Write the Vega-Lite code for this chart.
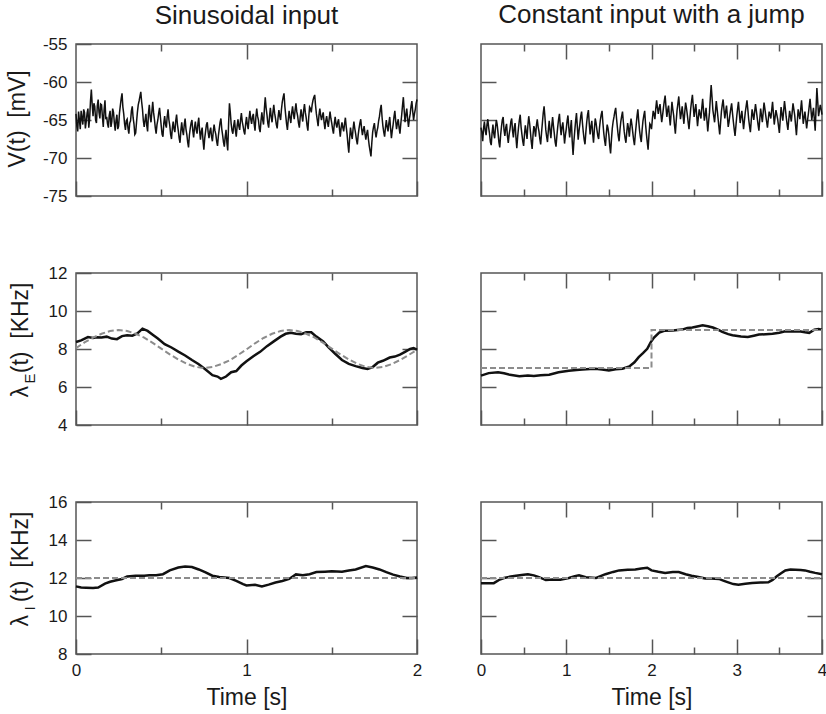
{
  "$schema": "https://vega.github.io/schema/vega-lite/v6.json",
  "padding": {"left": 5, "top": 1, "right": 0, "bottom": 0},
  "config": {
    "font": "Liberation Sans",
    "view": {"stroke": "#555555", "strokeWidth": 1.5},
    "axis": {"domain": false, "grid": false, "labelFont": "Liberation Sans", "labelFontSize": 17, "labelColor": "#1a1a1a", "tickColor": "#555555", "tickWidth": 1.5, "labelFlush": false, "labelOverlap": false, "labelBound": false, "titleFont": "Liberation Sans", "titleFontSize": 23, "titleFontWeight": "normal", "titleColor": "#1a1a1a"},
    "title": {"font": "Liberation Sans", "fontSize": 26, "fontWeight": "normal", "color": "#1a1a1a", "anchor": "middle", "baseline": "alphabetic", "frame": "group"}
  },
  "datasets": {
    "vsin": [
      {"t":0.00,"v":-64.2},{"t":0.01,"v":-66.5},{"t":0.02,"v":-65.0},{"t":0.03,"v":-63.8},{"t":0.04,"v":-65.6},{"t":0.05,"v":-64.0},{"t":0.06,"v":-65.2},{"t":0.07,"v":-63.5},{"t":0.08,"v":-64.8},{"t":0.09,"v":-61.0},
      {"t":0.10,"v":-64.5},{"t":0.11,"v":-63.2},{"t":0.12,"v":-65.4},{"t":0.13,"v":-62.3},{"t":0.14,"v":-64.8},{"t":0.15,"v":-63.0},{"t":0.16,"v":-65.9},{"t":0.17,"v":-62.4},{"t":0.18,"v":-64.6},{"t":0.19,"v":-66.0},
      {"t":0.20,"v":-63.8},{"t":0.21,"v":-65.2},{"t":0.22,"v":-64.0},{"t":0.23,"v":-66.4},{"t":0.24,"v":-64.3},{"t":0.25,"v":-65.8},{"t":0.26,"v":-63.1},{"t":0.27,"v":-61.5},{"t":0.28,"v":-64.2},{"t":0.29,"v":-66.3},
      {"t":0.30,"v":-64.9},{"t":0.31,"v":-66.8},{"t":0.32,"v":-65.1},{"t":0.33,"v":-63.2},{"t":0.34,"v":-65.5},{"t":0.35,"v":-66.7},{"t":0.36,"v":-64.0},{"t":0.37,"v":-62.5},{"t":0.38,"v":-61.3},{"t":0.39,"v":-63.6},
      {"t":0.40,"v":-65.9},{"t":0.41,"v":-64.2},{"t":0.42,"v":-66.5},{"t":0.43,"v":-63.0},{"t":0.44,"v":-65.3},{"t":0.45,"v":-62.6},{"t":0.46,"v":-64.9},{"t":0.47,"v":-66.8},{"t":0.48,"v":-65.0},{"t":0.49,"v":-63.4},
      {"t":0.50,"v":-65.8},{"t":0.51,"v":-67.2},{"t":0.52,"v":-64.5},{"t":0.53,"v":-66.0},{"t":0.54,"v":-63.6},{"t":0.55,"v":-65.7},{"t":0.56,"v":-67.5},{"t":0.57,"v":-65.2},{"t":0.58,"v":-66.6},{"t":0.59,"v":-64.3},
      {"t":0.60,"v":-66.4},{"t":0.61,"v":-68.0},{"t":0.62,"v":-65.3},{"t":0.63,"v":-67.0},{"t":0.64,"v":-64.8},{"t":0.65,"v":-66.9},{"t":0.66,"v":-68.6},{"t":0.67,"v":-66.1},{"t":0.68,"v":-65.0},{"t":0.69,"v":-67.3},
      {"t":0.70,"v":-65.2},{"t":0.71,"v":-66.8},{"t":0.72,"v":-64.7},{"t":0.73,"v":-67.6},{"t":0.74,"v":-66.0},{"t":0.75,"v":-68.9},{"t":0.76,"v":-66.5},{"t":0.77,"v":-65.3},{"t":0.78,"v":-67.4},{"t":0.79,"v":-66.0},
      {"t":0.80,"v":-67.8},{"t":0.81,"v":-65.6},{"t":0.82,"v":-66.9},{"t":0.83,"v":-68.4},{"t":0.84,"v":-66.2},{"t":0.85,"v":-64.8},{"t":0.86,"v":-67.0},{"t":0.87,"v":-68.5},{"t":0.88,"v":-66.3},{"t":0.89,"v":-69.0},
      {"t":0.90,"v":-62.8},{"t":0.91,"v":-65.5},{"t":0.92,"v":-66.8},{"t":0.93,"v":-65.0},{"t":0.94,"v":-67.2},{"t":0.95,"v":-64.9},{"t":0.96,"v":-66.3},{"t":0.97,"v":-64.1},{"t":0.98,"v":-65.8},{"t":0.99,"v":-66.9},
      {"t":1.00,"v":-64.6},{"t":1.01,"v":-66.2},{"t":1.02,"v":-63.8},{"t":1.03,"v":-65.5},{"t":1.04,"v":-64.2},{"t":1.05,"v":-66.4},{"t":1.06,"v":-63.5},{"t":1.07,"v":-65.0},{"t":1.08,"v":-66.6},{"t":1.09,"v":-64.0},
      {"t":1.10,"v":-65.6},{"t":1.11,"v":-62.0},{"t":1.12,"v":-64.3},{"t":1.13,"v":-66.0},{"t":1.14,"v":-63.4},{"t":1.15,"v":-65.3},{"t":1.16,"v":-63.0},{"t":1.17,"v":-64.8},{"t":1.18,"v":-66.1},{"t":1.19,"v":-63.7},
      {"t":1.20,"v":-65.0},{"t":1.21,"v":-62.6},{"t":1.22,"v":-61.5},{"t":1.23,"v":-64.4},{"t":1.24,"v":-66.3},{"t":1.25,"v":-63.8},{"t":1.26,"v":-65.4},{"t":1.27,"v":-63.2},{"t":1.28,"v":-64.9},{"t":1.29,"v":-62.8},
      {"t":1.30,"v":-64.5},{"t":1.31,"v":-66.0},{"t":1.32,"v":-63.6},{"t":1.33,"v":-65.2},{"t":1.34,"v":-62.9},{"t":1.35,"v":-64.7},{"t":1.36,"v":-66.4},{"t":1.37,"v":-63.3},{"t":1.38,"v":-64.0},{"t":1.39,"v":-62.4},
      {"t":1.40,"v":-61.7},{"t":1.41,"v":-64.2},{"t":1.42,"v":-65.8},{"t":1.43,"v":-63.5},{"t":1.44,"v":-65.0},{"t":1.45,"v":-64.0},{"t":1.46,"v":-66.2},{"t":1.47,"v":-64.5},{"t":1.48,"v":-65.9},{"t":1.49,"v":-63.9},
      {"t":1.50,"v":-65.4},{"t":1.51,"v":-66.8},{"t":1.52,"v":-64.6},{"t":1.53,"v":-66.0},{"t":1.54,"v":-64.9},{"t":1.55,"v":-67.2},{"t":1.56,"v":-65.3},{"t":1.57,"v":-66.5},{"t":1.58,"v":-64.7},{"t":1.59,"v":-66.9},
      {"t":1.60,"v":-69.3},{"t":1.61,"v":-66.0},{"t":1.62,"v":-67.5},{"t":1.63,"v":-65.2},{"t":1.64,"v":-66.8},{"t":1.65,"v":-68.2},{"t":1.66,"v":-66.1},{"t":1.67,"v":-64.9},{"t":1.68,"v":-67.0},{"t":1.69,"v":-65.8},
      {"t":1.70,"v":-67.6},{"t":1.71,"v":-66.3},{"t":1.72,"v":-68.4},{"t":1.73,"v":-69.8},{"t":1.74,"v":-66.6},{"t":1.75,"v":-65.4},{"t":1.76,"v":-67.3},{"t":1.77,"v":-66.0},{"t":1.78,"v":-64.5},{"t":1.79,"v":-63.0},
      {"t":1.80,"v":-65.8},{"t":1.81,"v":-67.2},{"t":1.82,"v":-65.0},{"t":1.83,"v":-66.5},{"t":1.84,"v":-64.6},{"t":1.85,"v":-67.4},{"t":1.86,"v":-65.6},{"t":1.87,"v":-63.8},{"t":1.88,"v":-66.2},{"t":1.89,"v":-64.9},
      {"t":1.90,"v":-66.8},{"t":1.91,"v":-64.4},{"t":1.92,"v":-62.0},{"t":1.93,"v":-65.3},{"t":1.94,"v":-63.5},{"t":1.95,"v":-65.9},{"t":1.96,"v":-64.2},{"t":1.97,"v":-62.5},{"t":1.98,"v":-65.0},{"t":1.99,"v":-63.6},{"t":2.00,"v":-62.3},
      {"t":0.005,"v":-65.8},{"t":0.015,"v":-63.9},{"t":0.025,"v":-66.2},{"t":0.035,"v":-64.7},{"t":0.045,"v":-63.6},{"t":0.055,"v":-66.1},{"t":0.065,"v":-64.1},{"t":0.075,"v":-66.0},{"t":0.085,"v":-62.5},{"t":0.095,"v":-63.0},
      {"t":0.105,"v":-62.8},{"t":0.115,"v":-65.0},{"t":0.125,"v":-63.1},{"t":0.135,"v":-64.0},{"t":0.145,"v":-62.9},{"t":0.155,"v":-64.6},{"t":0.165,"v":-63.6},{"t":0.175,"v":-64.9},{"t":0.185,"v":-65.5},{"t":0.195,"v":-64.4},
      {"t":0.205,"v":-65.9},{"t":0.215,"v":-63.5},{"t":0.225,"v":-65.4},{"t":0.235,"v":-65.0},{"t":0.245,"v":-66.2},{"t":0.255,"v":-64.1},{"t":0.265,"v":-62.2},{"t":0.275,"v":-63.3},{"t":0.285,"v":-65.5},{"t":0.295,"v":-65.1},
      {"t":0.305,"v":-66.1},{"t":0.315,"v":-65.4},{"t":0.325,"v":-63.8},{"t":0.335,"v":-64.7},{"t":0.345,"v":-66.9},{"t":0.355,"v":-65.3},{"t":0.365,"v":-63.0},{"t":0.375,"v":-61.9},{"t":0.385,"v":-62.6},{"t":0.395,"v":-65.1},
      {"t":0.405,"v":-65.0},{"t":0.415,"v":-65.7},{"t":0.425,"v":-64.1},{"t":0.435,"v":-64.6},{"t":0.445,"v":-63.9},{"t":0.455,"v":-64.0},{"t":0.465,"v":-66.0},{"t":0.475,"v":-65.6},{"t":0.485,"v":-64.1},{"t":0.495,"v":-64.6},
      {"t":0.505,"v":-66.9},{"t":0.515,"v":-65.4},{"t":0.525,"v":-65.6},{"t":0.535,"v":-64.5},{"t":0.545,"v":-65.0},{"t":0.555,"v":-66.9},{"t":0.565,"v":-66.1},{"t":0.575,"v":-66.2},{"t":0.585,"v":-65.1},{"t":0.595,"v":-65.6},
      {"t":0.605,"v":-67.4},{"t":0.615,"v":-66.4},{"t":0.625,"v":-66.4},{"t":0.635,"v":-65.6},{"t":0.645,"v":-66.2},{"t":0.655,"v":-67.9},{"t":0.665,"v":-67.0},{"t":0.675,"v":-65.4},{"t":0.685,"v":-66.4},{"t":0.695,"v":-66.0},
      {"t":0.705,"v":-66.3},{"t":0.715,"v":-65.5},{"t":0.725,"v":-66.4},{"t":0.735,"v":-66.5},{"t":0.745,"v":-67.7},{"t":0.755,"v":-67.4},{"t":0.765,"v":-65.6},{"t":0.775,"v":-66.6},{"t":0.785,"v":-66.5},{"t":0.795,"v":-67.2},
      {"t":0.805,"v":-66.5},{"t":0.815,"v":-66.4},{"t":0.825,"v":-67.8},{"t":0.835,"v":-67.1},{"t":0.845,"v":-65.3},{"t":0.855,"v":-66.2},{"t":0.865,"v":-67.9},{"t":0.875,"v":-67.2},{"t":0.885,"v":-68.0},{"t":0.895,"v":-65.5},
      {"t":0.905,"v":-64.0},{"t":0.915,"v":-66.4},{"t":0.925,"v":-65.7},{"t":0.935,"v":-66.4},{"t":0.945,"v":-65.8},{"t":0.955,"v":-65.8},{"t":0.965,"v":-65.0},{"t":0.975,"v":-65.2},{"t":0.985,"v":-66.5},{"t":0.995,"v":-65.5},
      {"t":1.005,"v":-65.6},{"t":1.015,"v":-64.8},{"t":1.025,"v":-64.9},{"t":1.035,"v":-64.6},{"t":1.045,"v":-65.5},{"t":1.055,"v":-64.6},{"t":1.065,"v":-64.5},{"t":1.075,"v":-66.1},{"t":1.085,"v":-65.1},{"t":1.095,"v":-65.0},
      {"t":1.105,"v":-63.5},{"t":1.115,"v":-63.4},{"t":1.125,"v":-65.4},{"t":1.135,"v":-64.5},{"t":1.145,"v":-64.6},{"t":1.155,"v":-64.0},{"t":1.165,"v":-64.1},{"t":1.175,"v":-65.6},{"t":1.185,"v":-64.7},{"t":1.195,"v":-64.5},
      {"t":1.205,"v":-63.6},{"t":1.215,"v":-62.0},{"t":1.225,"v":-63.2},{"t":1.235,"v":-65.5},{"t":1.245,"v":-64.9},{"t":1.255,"v":-64.7},{"t":1.265,"v":-64.1},{"t":1.275,"v":-64.2},{"t":1.285,"v":-63.7},{"t":1.295,"v":-63.9},
      {"t":1.305,"v":-65.4},{"t":1.315,"v":-64.6},{"t":1.325,"v":-64.5},{"t":1.335,"v":-63.8},{"t":1.345,"v":-64.0},{"t":1.355,"v":-65.7},{"t":1.365,"v":-64.6},{"t":1.375,"v":-63.5},{"t":1.385,"v":-63.0},{"t":1.395,"v":-62.0},
      {"t":1.405,"v":-63.1},{"t":1.415,"v":-65.0},{"t":1.425,"v":-64.4},{"t":1.435,"v":-64.4},{"t":1.445,"v":-64.4},{"t":1.455,"v":-65.3},{"t":1.465,"v":-65.1},{"t":1.475,"v":-65.3},{"t":1.485,"v":-64.8},{"t":1.495,"v":-64.8},
      {"t":1.505,"v":-66.2},{"t":1.515,"v":-65.5},{"t":1.525,"v":-65.5},{"t":1.535,"v":-65.3},{"t":1.545,"v":-66.1},{"t":1.555,"v":-66.0},{"t":1.565,"v":-66.0},{"t":1.575,"v":-65.5},{"t":1.585,"v":-65.9},{"t":1.595,"v":-68.2},
      {"t":1.605,"v":-67.4},{"t":1.615,"v":-66.9},{"t":1.625,"v":-66.2},{"t":1.635,"v":-66.1},{"t":1.645,"v":-67.6},{"t":1.655,"v":-67.0},{"t":1.665,"v":-65.4},{"t":1.675,"v":-66.1},{"t":1.685,"v":-66.3},{"t":1.695,"v":-66.8},
      {"t":1.705,"v":-66.8},{"t":1.715,"v":-67.5},{"t":1.725,"v":-69.1},{"t":1.735,"v":-68.0},{"t":1.745,"v":-65.9},{"t":1.755,"v":-66.5},{"t":1.765,"v":-66.5},{"t":1.775,"v":-65.1},{"t":1.785,"v":-63.6},{"t":1.795,"v":-64.6},
      {"t":1.805,"v":-66.6},{"t":1.815,"v":-66.0},{"t":1.825,"v":-65.9},{"t":1.835,"v":-65.4},{"t":1.845,"v":-66.1},{"t":1.855,"v":-66.4},{"t":1.865,"v":-64.6},{"t":1.875,"v":-65.1},{"t":1.885,"v":-65.4},{"t":1.895,"v":-66.0},
      {"t":1.905,"v":-65.5},{"t":1.915,"v":-63.1},{"t":1.925,"v":-63.8},{"t":1.935,"v":-64.3},{"t":1.945,"v":-64.8},{"t":1.955,"v":-64.9},{"t":1.965,"v":-63.2},{"t":1.975,"v":-63.9},{"t":1.985,"v":-64.2},{"t":1.995,"v":-62.8}
    ],
    "vjump": [
      {"t":0.00,"v":-66.0},{"t":0.02,"v":-67.8},{"t":0.04,"v":-65.2},{"t":0.06,"v":-67.0},{"t":0.08,"v":-64.9},{"t":0.10,"v":-66.8},{"t":0.12,"v":-68.3},{"t":0.14,"v":-65.6},{"t":0.16,"v":-67.4},{"t":0.18,"v":-65.0},
      {"t":0.20,"v":-66.7},{"t":0.22,"v":-68.6},{"t":0.24,"v":-65.9},{"t":0.26,"v":-64.6},{"t":0.28,"v":-67.1},{"t":0.30,"v":-65.5},{"t":0.32,"v":-68.0},{"t":0.34,"v":-66.2},{"t":0.36,"v":-64.8},{"t":0.38,"v":-67.3},
      {"t":0.40,"v":-65.4},{"t":0.42,"v":-68.7},{"t":0.44,"v":-66.0},{"t":0.46,"v":-64.3},{"t":0.48,"v":-66.9},{"t":0.50,"v":-68.4},{"t":0.52,"v":-65.7},{"t":0.54,"v":-67.5},{"t":0.56,"v":-64.5},{"t":0.58,"v":-66.6},
      {"t":0.60,"v":-68.8},{"t":0.62,"v":-65.8},{"t":0.64,"v":-67.2},{"t":0.66,"v":-64.9},{"t":0.68,"v":-66.5},{"t":0.70,"v":-68.2},{"t":0.72,"v":-65.4},{"t":0.74,"v":-63.2},{"t":0.76,"v":-66.3},{"t":0.78,"v":-67.9},
      {"t":0.80,"v":-65.1},{"t":0.82,"v":-67.4},{"t":0.84,"v":-64.6},{"t":0.86,"v":-66.8},{"t":0.88,"v":-68.5},{"t":0.90,"v":-65.9},{"t":0.92,"v":-64.2},{"t":0.94,"v":-67.0},{"t":0.96,"v":-65.3},{"t":0.98,"v":-68.1},
      {"t":1.00,"v":-66.2},{"t":1.02,"v":-64.4},{"t":1.04,"v":-67.3},{"t":1.06,"v":-65.0},{"t":1.08,"v":-69.6},{"t":1.10,"v":-66.4},{"t":1.12,"v":-64.1},{"t":1.14,"v":-67.6},{"t":1.16,"v":-65.5},{"t":1.18,"v":-63.9},
      {"t":1.20,"v":-66.6},{"t":1.22,"v":-68.2},{"t":1.24,"v":-65.3},{"t":1.26,"v":-63.7},{"t":1.28,"v":-66.9},{"t":1.30,"v":-65.1},{"t":1.32,"v":-68.0},{"t":1.34,"v":-64.8},{"t":1.36,"v":-66.3},{"t":1.38,"v":-67.5},
      {"t":1.40,"v":-65.0},{"t":1.42,"v":-63.8},{"t":1.44,"v":-66.7},{"t":1.46,"v":-68.4},{"t":1.48,"v":-65.6},{"t":1.50,"v":-67.0},{"t":1.52,"v":-69.4},{"t":1.54,"v":-66.1},{"t":1.56,"v":-64.6},{"t":1.58,"v":-63.4},
      {"t":1.60,"v":-66.0},{"t":1.62,"v":-67.8},{"t":1.64,"v":-65.2},{"t":1.66,"v":-63.9},{"t":1.68,"v":-66.5},{"t":1.70,"v":-68.0},{"t":1.72,"v":-65.4},{"t":1.74,"v":-67.2},{"t":1.76,"v":-64.8},{"t":1.78,"v":-66.6},
      {"t":1.80,"v":-68.3},{"t":1.82,"v":-65.7},{"t":1.84,"v":-63.6},{"t":1.86,"v":-66.4},{"t":1.88,"v":-67.9},{"t":1.90,"v":-65.1},{"t":1.92,"v":-63.8},{"t":1.94,"v":-66.8},{"t":1.96,"v":-68.9},{"t":1.98,"v":-65.5},
      {"t":2.00,"v":-66.2},{"t":2.02,"v":-63.8},{"t":2.04,"v":-64.9},{"t":2.06,"v":-62.4},{"t":2.08,"v":-64.2},{"t":2.10,"v":-62.9},{"t":2.12,"v":-65.3},{"t":2.14,"v":-63.4},{"t":2.16,"v":-61.8},{"t":2.18,"v":-64.6},
      {"t":2.20,"v":-63.1},{"t":2.22,"v":-65.7},{"t":2.24,"v":-62.6},{"t":2.26,"v":-64.4},{"t":2.28,"v":-66.8},{"t":2.30,"v":-63.7},{"t":2.32,"v":-61.9},{"t":2.34,"v":-64.9},{"t":2.36,"v":-63.2},{"t":2.38,"v":-65.5},
      {"t":2.40,"v":-62.7},{"t":2.42,"v":-64.3},{"t":2.44,"v":-66.2},{"t":2.46,"v":-63.5},{"t":2.48,"v":-61.7},{"t":2.50,"v":-64.6},{"t":2.52,"v":-62.9},{"t":2.54,"v":-65.8},{"t":2.56,"v":-63.6},{"t":2.58,"v":-64.8},
      {"t":2.60,"v":-62.2},{"t":2.62,"v":-65.1},{"t":2.64,"v":-63.4},{"t":2.66,"v":-66.5},{"t":2.68,"v":-64.0},{"t":2.70,"v":-60.4},{"t":2.72,"v":-63.7},{"t":2.74,"v":-65.3},{"t":2.76,"v":-62.5},{"t":2.78,"v":-64.7},
      {"t":2.80,"v":-66.9},{"t":2.82,"v":-63.9},{"t":2.84,"v":-62.3},{"t":2.86,"v":-64.8},{"t":2.88,"v":-63.1},{"t":2.90,"v":-65.9},{"t":2.92,"v":-64.3},{"t":2.94,"v":-62.8},{"t":2.96,"v":-65.2},{"t":2.98,"v":-67.1},
      {"t":3.00,"v":-64.5},{"t":3.02,"v":-62.6},{"t":3.04,"v":-65.4},{"t":3.06,"v":-63.8},{"t":3.08,"v":-66.2},{"t":3.10,"v":-64.0},{"t":3.12,"v":-62.4},{"t":3.14,"v":-64.9},{"t":3.16,"v":-66.6},{"t":3.18,"v":-63.6},
      {"t":3.20,"v":-65.0},{"t":3.22,"v":-62.9},{"t":3.24,"v":-64.7},{"t":3.26,"v":-66.4},{"t":3.28,"v":-63.5},{"t":3.30,"v":-65.3},{"t":3.32,"v":-62.7},{"t":3.34,"v":-64.4},{"t":3.36,"v":-66.0},{"t":3.38,"v":-63.9},
      {"t":3.40,"v":-64.8},{"t":3.42,"v":-62.6},{"t":3.44,"v":-65.6},{"t":3.46,"v":-63.7},{"t":3.48,"v":-64.9},{"t":3.50,"v":-66.7},{"t":3.52,"v":-63.3},{"t":3.54,"v":-65.1},{"t":3.56,"v":-62.5},{"t":3.58,"v":-64.6},
      {"t":3.60,"v":-66.3},{"t":3.62,"v":-63.8},{"t":3.64,"v":-65.2},{"t":3.66,"v":-62.8},{"t":3.68,"v":-64.4},{"t":3.70,"v":-67.0},{"t":3.72,"v":-63.6},{"t":3.74,"v":-64.9},{"t":3.76,"v":-62.4},{"t":3.78,"v":-65.5},
      {"t":3.80,"v":-63.9},{"t":3.82,"v":-66.1},{"t":3.84,"v":-64.2},{"t":3.86,"v":-62.2},{"t":3.88,"v":-65.0},{"t":3.90,"v":-63.4},{"t":3.92,"v":-66.4},{"t":3.94,"v":-60.8},{"t":3.96,"v":-64.5},{"t":3.98,"v":-63.0},{"t":4.00,"v":-64.3},
      {"t":0.01,"v":-66.6},{"t":0.03,"v":-66.1},{"t":0.05,"v":-66.4},{"t":0.07,"v":-65.6},{"t":0.09,"v":-66.0},{"t":0.11,"v":-67.9},{"t":0.13,"v":-66.7},{"t":0.15,"v":-66.8},{"t":0.17,"v":-66.0},{"t":0.19,"v":-65.6},
      {"t":0.21,"v":-67.9},{"t":0.23,"v":-67.0},{"t":0.25,"v":-65.0},{"t":0.27,"v":-66.3},{"t":0.29,"v":-66.0},{"t":0.31,"v":-67.1},{"t":0.33,"v":-66.9},{"t":0.35,"v":-65.2},{"t":0.37,"v":-66.4},{"t":0.39,"v":-66.0},
      {"t":0.41,"v":-67.3},{"t":0.43,"v":-67.2},{"t":0.45,"v":-65.0},{"t":0.47,"v":-65.9},{"t":0.49,"v":-67.8},{"t":0.51,"v":-66.9},{"t":0.53,"v":-66.6},{"t":0.55,"v":-65.7},{"t":0.57,"v":-65.4},{"t":0.59,"v":-67.9},
      {"t":0.61,"v":-67.0},{"t":0.63,"v":-66.2},{"t":0.65,"v":-65.7},{"t":0.67,"v":-65.9},{"t":0.69,"v":-67.5},{"t":0.71,"v":-66.7},{"t":0.73,"v":-64.1},{"t":0.75,"v":-64.6},{"t":0.77,"v":-67.2},{"t":0.79,"v":-66.3},
      {"t":0.81,"v":-66.4},{"t":0.83,"v":-65.8},{"t":0.85,"v":-65.8},{"t":0.87,"v":-67.9},{"t":0.89,"v":-67.1},{"t":0.91,"v":-64.9},{"t":0.93,"v":-65.8},{"t":0.95,"v":-65.9},{"t":0.97,"v":-66.6},{"t":0.99,"v":-67.0},
      {"t":1.01,"v":-65.1},{"t":1.03,"v":-66.0},{"t":1.05,"v":-66.1},{"t":1.07,"v":-67.8},{"t":1.09,"v":-67.8},{"t":1.11,"v":-65.1},{"t":1.13,"v":-65.9},{"t":1.15,"v":-66.4},{"t":1.17,"v":-64.5},{"t":1.19,"v":-65.4},
      {"t":1.21,"v":-67.6},{"t":1.23,"v":-66.6},{"t":1.25,"v":-64.3},{"t":1.27,"v":-65.5},{"t":1.29,"v":-65.8},{"t":1.31,"v":-66.8},{"t":1.33,"v":-66.2},{"t":1.35,"v":-65.4},{"t":1.37,"v":-67.1},{"t":1.39,"v":-66.0},
      {"t":1.41,"v":-64.3},{"t":1.43,"v":-65.4},{"t":1.45,"v":-67.7},{"t":1.47,"v":-66.8},{"t":1.49,"v":-66.1},{"t":1.51,"v":-68.4},{"t":1.53,"v":-67.6},{"t":1.55,"v":-65.2},{"t":1.57,"v":-63.9},{"t":1.59,"v":-64.8},
      {"t":1.61,"v":-67.1},{"t":1.63,"v":-66.3},{"t":1.65,"v":-64.5},{"t":1.67,"v":-65.3},{"t":1.69,"v":-67.4},{"t":1.71,"v":-66.6},{"t":1.73,"v":-66.1},{"t":1.75,"v":-65.8},{"t":1.77,"v":-65.6},{"t":1.79,"v":-67.6},
      {"t":1.81,"v":-66.9},{"t":1.83,"v":-64.5},{"t":1.85,"v":-65.1},{"t":1.87,"v":-67.3},{"t":1.89,"v":-66.3},{"t":1.91,"v":-64.4},{"t":1.93,"v":-65.5},{"t":1.95,"v":-67.9},{"t":1.97,"v":-67.0},{"t":1.99,"v":-65.7},
      {"t":2.01,"v":-64.9},{"t":2.03,"v":-64.2},{"t":2.05,"v":-63.5},{"t":2.07,"v":-63.4},{"t":2.09,"v":-63.4},{"t":2.11,"v":-64.2},{"t":2.13,"v":-64.4},{"t":2.15,"v":-62.5},{"t":2.17,"v":-63.3},{"t":2.19,"v":-63.7},
      {"t":2.21,"v":-64.5},{"t":2.23,"v":-64.2},{"t":2.25,"v":-63.6},{"t":2.27,"v":-65.7},{"t":2.29,"v":-65.1},{"t":2.31,"v":-62.8},{"t":2.33,"v":-63.5},{"t":2.35,"v":-64.1},{"t":2.37,"v":-64.4},{"t":2.39,"v":-64.0},
      {"t":2.41,"v":-63.4},{"t":2.43,"v":-65.3},{"t":2.45,"v":-64.8},{"t":2.47,"v":-62.5},{"t":2.49,"v":-63.2},{"t":2.51,"v":-63.7},{"t":2.53,"v":-64.4},{"t":2.55,"v":-64.6},{"t":2.57,"v":-64.3},{"t":2.59,"v":-63.4},
      {"t":2.61,"v":-63.7},{"t":2.63,"v":-64.3},{"t":2.65,"v":-65.0},{"t":2.67,"v":-65.2},{"t":2.69,"v":-62.1},{"t":2.71,"v":-62.0},{"t":2.73,"v":-64.5},{"t":2.75,"v":-63.9},{"t":2.77,"v":-63.6},{"t":2.79,"v":-65.8},
      {"t":2.81,"v":-65.4},{"t":2.83,"v":-63.0},{"t":2.85,"v":-63.6},{"t":2.87,"v":-63.9},{"t":2.89,"v":-64.5},{"t":2.91,"v":-65.2},{"t":2.93,"v":-63.5},{"t":2.95,"v":-64.1},{"t":2.97,"v":-66.2},{"t":2.99,"v":-65.8},
      {"t":3.01,"v":-63.5},{"t":3.03,"v":-64.0},{"t":3.05,"v":-64.6},{"t":3.07,"v":-65.0},{"t":3.09,"v":-65.1},{"t":3.11,"v":-63.2},{"t":3.13,"v":-63.6},{"t":3.15,"v":-65.8},{"t":3.17,"v":-65.1},{"t":3.19,"v":-64.3},
      {"t":3.21,"v":-63.9},{"t":3.23,"v":-63.8},{"t":3.25,"v":-65.6},{"t":3.27,"v":-64.9},{"t":3.29,"v":-64.4},{"t":3.31,"v":-64.0},{"t":3.33,"v":-63.5},{"t":3.35,"v":-65.2},{"t":3.37,"v":-64.9},{"t":3.39,"v":-64.3},
      {"t":3.41,"v":-63.7},{"t":3.43,"v":-64.1},{"t":3.45,"v":-64.6},{"t":3.47,"v":-64.3},{"t":3.49,"v":-65.8},{"t":3.51,"v":-65.0},{"t":3.53,"v":-64.2},{"t":3.55,"v":-63.8},{"t":3.57,"v":-63.5},{"t":3.59,"v":-65.5},
      {"t":3.61,"v":-65.0},{"t":3.63,"v":-64.5},{"t":3.65,"v":-64.0},{"t":3.67,"v":-63.6},{"t":3.69,"v":-65.7},{"t":3.71,"v":-65.3},{"t":3.73,"v":-64.2},{"t":3.75,"v":-63.6},{"t":3.77,"v":-63.9},{"t":3.79,"v":-64.7},
      {"t":3.81,"v":-65.0},{"t":3.83,"v":-65.1},{"t":3.85,"v":-63.2},{"t":3.87,"v":-63.6},{"t":3.89,"v":-64.2},{"t":3.91,"v":-64.9},{"t":3.93,"v":-63.6},{"t":3.95,"v":-62.6},{"t":3.97,"v":-63.7},{"t":3.99,"v":-63.6}
    ],
    "esin": [
      {"t":0.00,"v":8.37},{"t":0.03,"v":8.45},{"t":0.07,"v":8.63},{"t":0.10,"v":8.58},{"t":0.12,"v":8.62},{"t":0.15,"v":8.6},{"t":0.18,"v":8.65},{"t":0.21,"v":8.55},{"t":0.24,"v":8.52},{"t":0.27,"v":8.68},
      {"t":0.30,"v":8.72},{"t":0.33,"v":8.7},{"t":0.36,"v":8.82},{"t":0.39,"v":9.07},{"t":0.42,"v":8.95},{"t":0.45,"v":8.75},{"t":0.48,"v":8.55},{"t":0.52,"v":8.25},{"t":0.56,"v":8.08},{"t":0.60,"v":7.86},
      {"t":0.64,"v":7.66},{"t":0.68,"v":7.42},{"t":0.72,"v":7.2},{"t":0.76,"v":6.92},{"t":0.80,"v":6.62},{"t":0.83,"v":6.55},{"t":0.85,"v":6.43},{"t":0.88,"v":6.55},{"t":0.91,"v":6.78},{"t":0.94,"v":6.84},
      {"t":0.97,"v":7.13},{"t":1.00,"v":7.35},{"t":1.04,"v":7.62},{"t":1.08,"v":7.85},{"t":1.12,"v":8.15},{"t":1.16,"v":8.4},{"t":1.20,"v":8.65},{"t":1.23,"v":8.8},{"t":1.26,"v":8.86},{"t":1.29,"v":8.8},
      {"t":1.32,"v":8.78},{"t":1.35,"v":8.88},{"t":1.38,"v":8.88},{"t":1.41,"v":8.65},{"t":1.45,"v":8.4},{"t":1.48,"v":8.1},{"t":1.52,"v":7.75},{"t":1.56,"v":7.42},{"t":1.60,"v":7.22},{"t":1.64,"v":7.1},
      {"t":1.68,"v":7.0},{"t":1.71,"v":6.95},{"t":1.74,"v":7.05},{"t":1.77,"v":7.28},{"t":1.80,"v":7.38},{"t":1.84,"v":7.55},{"t":1.87,"v":7.6},{"t":1.90,"v":7.7},{"t":1.93,"v":7.85},{"t":1.96,"v":8.0},
      {"t":1.98,"v":8.05},{"t":2.00,"v":7.97}
    ],
    "esin_in": [
      {"t":0.00,"v":8.05},{"t":0.05,"v":8.35},{"t":0.10,"v":8.6},{"t":0.15,"v":8.8},{"t":0.20,"v":8.95},{"t":0.25,"v":9.0},{"t":0.30,"v":8.95},{"t":0.35,"v":8.8},{"t":0.40,"v":8.6},{"t":0.45,"v":8.32},
      {"t":0.50,"v":8.02},{"t":0.55,"v":7.72},{"t":0.60,"v":7.45},{"t":0.65,"v":7.22},{"t":0.70,"v":7.06},{"t":0.75,"v":7.0},{"t":0.80,"v":7.05},{"t":0.85,"v":7.2},{"t":0.90,"v":7.4},{"t":0.95,"v":7.68},
      {"t":1.00,"v":7.98},{"t":1.05,"v":8.3},{"t":1.10,"v":8.58},{"t":1.15,"v":8.8},{"t":1.20,"v":8.95},{"t":1.25,"v":9.0},{"t":1.30,"v":8.95},{"t":1.35,"v":8.8},{"t":1.40,"v":8.6},{"t":1.45,"v":8.32},
      {"t":1.50,"v":8.02},{"t":1.55,"v":7.72},{"t":1.60,"v":7.45},{"t":1.65,"v":7.22},{"t":1.70,"v":7.06},{"t":1.75,"v":7.0},{"t":1.80,"v":7.05},{"t":1.85,"v":7.2},{"t":1.90,"v":7.42},{"t":1.95,"v":7.68},{"t":2.00,"v":7.95}
    ],
    "ejump": [
      {"t":0.00,"v":6.6},{"t":0.09,"v":6.73},{"t":0.2,"v":6.78},{"t":0.27,"v":6.72},{"t":0.34,"v":6.64},{"t":0.45,"v":6.57},{"t":0.55,"v":6.6},{"t":0.62,"v":6.58},{"t":0.7,"v":6.62},{"t":0.8,"v":6.65},
      {"t":0.91,"v":6.78},{"t":1.03,"v":6.86},{"t":1.12,"v":6.9},{"t":1.19,"v":6.92},{"t":1.28,"v":6.95},{"t":1.34,"v":6.96},{"t":1.42,"v":6.92},{"t":1.5,"v":6.87},{"t":1.58,"v":6.93},{"t":1.66,"v":6.96},
      {"t":1.74,"v":7.08},{"t":1.8,"v":7.3},{"t":1.85,"v":7.57},{"t":1.9,"v":7.78},{"t":1.95,"v":8.01},{"t":1.99,"v":8.35},{"t":2.03,"v":8.6},{"t":2.09,"v":8.86},{"t":2.15,"v":8.96},{"t":2.25,"v":8.98},
      {"t":2.36,"v":9.02},{"t":2.42,"v":9.1},{"t":2.48,"v":9.13},{"t":2.55,"v":9.2},{"t":2.6,"v":9.25},{"t":2.66,"v":9.2},{"t":2.72,"v":9.13},{"t":2.78,"v":9.02},{"t":2.83,"v":8.9},{"t":2.9,"v":8.78},
      {"t":2.95,"v":8.72},{"t":3.05,"v":8.66},{"t":3.13,"v":8.63},{"t":3.2,"v":8.7},{"t":3.26,"v":8.76},{"t":3.34,"v":8.78},{"t":3.42,"v":8.8},{"t":3.5,"v":8.86},{"t":3.57,"v":8.93},{"t":3.65,"v":8.92},
      {"t":3.73,"v":8.93},{"t":3.8,"v":8.88},{"t":3.85,"v":8.85},{"t":3.91,"v":9.02},{"t":3.96,"v":9.05},{"t":4.0,"v":9.02}
    ],
    "ejump_in": [
      {"i":0,"t":0,"v":7},{"i":1,"t":2,"v":7},{"i":2,"t":2,"v":9},{"i":3,"t":4,"v":9}
    ],
    "isin": [
      {"t":0.00,"v":11.56},{"t":0.03,"v":11.5},{"t":0.06,"v":11.49},{"t":0.1,"v":11.48},{"t":0.13,"v":11.5},{"t":0.17,"v":11.7},{"t":0.2,"v":11.8},{"t":0.23,"v":11.87},{"t":0.27,"v":11.95},{"t":0.3,"v":12.08},
      {"t":0.35,"v":12.12},{"t":0.4,"v":12.12},{"t":0.43,"v":12.14},{"t":0.47,"v":12.14},{"t":0.51,"v":12.2},{"t":0.55,"v":12.4},{"t":0.6,"v":12.55},{"t":0.64,"v":12.61},{"t":0.68,"v":12.58},{"t":0.72,"v":12.45},
      {"t":0.76,"v":12.3},{"t":0.8,"v":12.12},{"t":0.84,"v":12.05},{"t":0.9,"v":12.0},{"t":0.94,"v":11.85},{"t":0.98,"v":11.68},{"t":1.0,"v":11.61},{"t":1.05,"v":11.64},{"t":1.09,"v":11.56},{"t":1.13,"v":11.65},
      {"t":1.17,"v":11.76},{"t":1.21,"v":11.84},{"t":1.25,"v":11.95},{"t":1.29,"v":12.19},{"t":1.33,"v":12.15},{"t":1.37,"v":12.2},{"t":1.41,"v":12.31},{"t":1.46,"v":12.33},{"t":1.5,"v":12.35},{"t":1.56,"v":12.33},
      {"t":1.6,"v":12.4},{"t":1.64,"v":12.45},{"t":1.7,"v":12.63},{"t":1.74,"v":12.55},{"t":1.78,"v":12.45},{"t":1.82,"v":12.31},{"t":1.86,"v":12.18},{"t":1.9,"v":12.08},{"t":1.94,"v":12.0},{"t":1.97,"v":12.0},{"t":2.0,"v":12.03}
    ],
    "isin_in": [{"t":0,"v":12},{"t":2,"v":12}],
    "ijump": [
      {"t":0,"v":11.73},{"t":0.15,"v":11.73},{"t":0.22,"v":11.92},{"t":0.27,"v":12.0},{"t":0.35,"v":12.08},{"t":0.41,"v":12.12},{"t":0.5,"v":12.17},{"t":0.55,"v":12.2},{"t":0.62,"v":12.14},{"t":0.68,"v":12.05},
      {"t":0.76,"v":11.89},{"t":0.85,"v":11.92},{"t":0.93,"v":11.91},{"t":1.03,"v":12.0},{"t":1.1,"v":12.1},{"t":1.15,"v":12.14},{"t":1.23,"v":12.04},{"t":1.35,"v":12.0},{"t":1.46,"v":12.2},{"t":1.55,"v":12.32},
      {"t":1.62,"v":12.4},{"t":1.72,"v":12.43},{"t":1.81,"v":12.45},{"t":1.88,"v":12.5},{"t":1.95,"v":12.54},{"t":2.0,"v":12.4},{"t":2.08,"v":12.33},{"t":2.16,"v":12.27},{"t":2.25,"v":12.31},{"t":2.32,"v":12.31},
      {"t":2.4,"v":12.2},{"t":2.47,"v":12.12},{"t":2.55,"v":12.05},{"t":2.63,"v":11.98},{"t":2.7,"v":11.97},{"t":2.79,"v":11.95},{"t":2.85,"v":11.85},{"t":2.9,"v":11.77},{"t":2.96,"v":11.68},{"t":3.02,"v":11.65},
      {"t":3.1,"v":11.7},{"t":3.18,"v":11.74},{"t":3.28,"v":11.76},{"t":3.37,"v":11.77},{"t":3.42,"v":11.9},{"t":3.47,"v":12.09},{"t":3.52,"v":12.25},{"t":3.57,"v":12.4},{"t":3.63,"v":12.45},{"t":3.69,"v":12.44},
      {"t":3.75,"v":12.42},{"t":3.8,"v":12.4},{"t":3.86,"v":12.33},{"t":3.92,"v":12.27},{"t":4.0,"v":12.2}
    ],
    "ijump_in": [{"t":0,"v":12},{"t":4,"v":12}]
  },
  "columns": 2,
  "bounds": "flush",
  "spacing": {"row": 77, "column": 64},
  "concat": [
    {
      "width": 341, "height": 152,
      "title": {"text": "Sinusoidal input", "offset": 6},
      "data": {"name": "vsin"},
      "resolve": {"axis": {"x": "independent", "y": "independent"}},
      "layer": [
        {"mark": {"type": "line", "color": "#111111", "strokeWidth": 1.5},
         "encoding": {
           "x": {"field": "t", "type": "quantitative", "scale": {"domain": [0, 2], "nice": false},
                 "axis": {"orient": "bottom", "values": [0, 0.5, 1, 1.5, 2], "labels": false, "title": null, "tickSize": {"condition": {"test": "datum.value % 1 === 0", "value": -15}, "value": -7}}},
           "y": {"field": "v", "type": "quantitative", "scale": {"domain": [-75, -55], "nice": false, "zero": false},
                 "axis": {"orient": "left", "values": [-75, -70, -65, -60, -55], "labelExpr": "'' + datum.value", "tickSize": -15, "labelPadding": 24, "title": "V(t)\u00a0\u00a0[mV]", "titleX": -52, "titleY": 123, "titleAlign": "left", "titleAngle": -90, "titleBaseline": "alphabetic"}}
         }},
        {"mark": {"type": "line", "opacity": 0},
         "encoding": {
           "x": {"field": "t", "type": "quantitative", "axis": {"orient": "top", "values": [0.5, 1, 1.5], "labels": false, "title": null, "tickSize": {"condition": {"test": "datum.value % 1 === 0", "value": -15}, "value": -7}}},
           "y": {"field": "v", "type": "quantitative", "axis": {"orient": "right", "values": [-70, -65, -60], "labels": false, "title": null, "tickSize": -15}}
         }}
      ]
    },
    {
      "width": 341, "height": 152,
      "title": {"text": "Constant input with a jump", "offset": 15},
      "data": {"name": "vjump"},
      "resolve": {"axis": {"x": "independent", "y": "independent"}},
      "layer": [
        {"mark": {"type": "line", "color": "#111111", "strokeWidth": 1.5},
         "encoding": {
           "x": {"field": "t", "type": "quantitative", "scale": {"domain": [0, 4], "nice": false},
                 "axis": {"orient": "bottom", "values": [0, 0.5, 1, 1.5, 2, 2.5, 3, 3.5, 4], "labels": false, "title": null, "tickSize": {"condition": {"test": "datum.value % 1 === 0", "value": -15}, "value": -7}}},
           "y": {"field": "v", "type": "quantitative", "scale": {"domain": [-75, -55], "nice": false, "zero": false},
                 "axis": {"orient": "left", "values": [-70, -65, -60], "labels": false, "tickSize": -15, "title": null}}
         }},
        {"mark": {"type": "line", "opacity": 0},
         "encoding": {
           "x": {"field": "t", "type": "quantitative", "axis": {"orient": "top", "values": [0.5, 1, 1.5, 2, 2.5, 3, 3.5], "labels": false, "title": null, "tickSize": {"condition": {"test": "datum.value % 1 === 0", "value": -15}, "value": -7}}},
           "y": {"field": "v", "type": "quantitative", "axis": {"orient": "right", "values": [-70, -65, -60], "labels": false, "title": null, "tickSize": -15}}
         }}
      ]
    },
    {
      "width": 341, "height": 152,
      "resolve": {"axis": {"x": "independent", "y": "independent"}},
      "layer": [
        {"data": {"name": "esin"},
         "mark": {"type": "line", "color": "#111111", "strokeWidth": 2.5},
         "encoding": {
           "x": {"field": "t", "type": "quantitative", "scale": {"domain": [0, 2], "nice": false},
                 "axis": {"orient": "bottom", "values": [0, 0.5, 1, 1.5, 2], "labels": false, "title": null, "tickSize": {"condition": {"test": "datum.value % 1 === 0", "value": -15}, "value": -7}}},
           "y": {"field": "v", "type": "quantitative", "scale": {"domain": [4, 12], "nice": false, "zero": false},
                 "axis": {"orient": "left", "values": [4, 6, 8, 10, 12], "labelExpr": "'' + datum.value", "tickSize": -15, "labelPadding": 24, "title": "λ\u00a0\u00a0(t)\u00a0\u00a0[KHz]", "titleX": -49, "titleY": 124, "titleAlign": "left", "titleAngle": -90, "titleBaseline": "alphabetic"}}
         }},
        {"data": {"name": "esin_in"},
         "mark": {"type": "line", "color": "#8c8c8c", "strokeWidth": 2, "strokeDash": [6, 3]},
         "encoding": {
           "x": {"field": "t", "type": "quantitative", "axis": {"orient": "top", "values": [0.5, 1, 1.5], "labels": false, "title": null, "tickSize": {"condition": {"test": "datum.value % 1 === 0", "value": -15}, "value": -7}}},
           "y": {"field": "v", "type": "quantitative", "axis": {"orient": "right", "values": [6, 8, 10], "labels": false, "title": null, "tickSize": -15}}
         }},
        {"data": {"name": "esin_in"},
         "mark": {"type": "line", "opacity": 0},
         "encoding": {
           "x": {"field": "t", "type": "quantitative", "axis": null},
           "y": {"field": "v", "type": "quantitative", "axis": {"orient": "left", "labels": false, "ticks": false, "domain": false, "title": "E", "titleFontSize": 15, "titleX": -42, "titleY": 110, "titleAlign": "left", "titleAngle": -90, "titleBaseline": "alphabetic"}}
         }}
      ]
    },
    {
      "width": 341, "height": 152,
      "resolve": {"axis": {"x": "independent", "y": "independent"}},
      "layer": [
        {"data": {"name": "ejump"},
         "mark": {"type": "line", "color": "#111111", "strokeWidth": 2.5},
         "encoding": {
           "x": {"field": "t", "type": "quantitative", "scale": {"domain": [0, 4], "nice": false},
                 "axis": {"orient": "bottom", "values": [0, 0.5, 1, 1.5, 2, 2.5, 3, 3.5, 4], "labels": false, "title": null, "tickSize": {"condition": {"test": "datum.value % 1 === 0", "value": -15}, "value": -7}}},
           "y": {"field": "v", "type": "quantitative", "scale": {"domain": [4, 12], "nice": false, "zero": false},
                 "axis": {"orient": "left", "values": [6, 8, 10], "labels": false, "tickSize": -15, "title": null}}
         }},
        {"data": {"name": "ejump_in"},
         "mark": {"type": "line", "color": "#8c8c8c", "strokeWidth": 2, "strokeDash": [6, 3]},
         "encoding": {
           "x": {"field": "t", "type": "quantitative", "axis": {"orient": "top", "values": [0.5, 1, 1.5, 2, 2.5, 3, 3.5], "labels": false, "title": null, "tickSize": {"condition": {"test": "datum.value % 1 === 0", "value": -15}, "value": -7}}},
           "y": {"field": "v", "type": "quantitative", "axis": {"orient": "right", "values": [6, 8, 10], "labels": false, "title": null, "tickSize": -15}},
           "order": {"field": "i", "type": "quantitative"}
         }}
      ]
    },
    {
      "width": 341, "height": 152,
      "resolve": {"axis": {"x": "independent", "y": "independent"}},
      "layer": [
        {"data": {"name": "isin"},
         "mark": {"type": "line", "color": "#111111", "strokeWidth": 2.5},
         "encoding": {
           "x": {"field": "t", "type": "quantitative", "scale": {"domain": [0, 2], "nice": false},
                 "axis": {"orient": "bottom", "values": [0, 0.5, 1, 1.5, 2], "labelExpr": "datum.value % 1 === 0 ? '' + datum.value : ''", "labelPadding": 23, "title": "Time [s]", "titlePadding": 0, "tickSize": {"condition": {"test": "datum.value % 1 === 0", "value": -15}, "value": -7}}},
           "y": {"field": "v", "type": "quantitative", "scale": {"domain": [8, 16], "nice": false, "zero": false},
                 "axis": {"orient": "left", "values": [8, 10, 12, 14, 16], "labelExpr": "'' + datum.value", "tickSize": -15, "labelPadding": 24, "title": "λ\u00a0\u00a0(t)\u00a0\u00a0[KHz]", "titleX": -49, "titleY": 124, "titleAlign": "left", "titleAngle": -90, "titleBaseline": "alphabetic"}}
         }},
        {"data": {"name": "isin_in"},
         "mark": {"type": "line", "color": "#8c8c8c", "strokeWidth": 2, "strokeDash": [6, 3]},
         "encoding": {
           "x": {"field": "t", "type": "quantitative", "axis": {"orient": "top", "values": [0.5, 1, 1.5], "labels": false, "title": null, "tickSize": {"condition": {"test": "datum.value % 1 === 0", "value": -15}, "value": -7}}},
           "y": {"field": "v", "type": "quantitative", "axis": {"orient": "right", "values": [10, 12, 14], "labels": false, "title": null, "tickSize": -15}}
         }},
        {"data": {"name": "isin_in"},
         "mark": {"type": "line", "opacity": 0},
         "encoding": {
           "x": {"field": "t", "type": "quantitative", "axis": null},
           "y": {"field": "v", "type": "quantitative", "axis": {"orient": "left", "labels": false, "ticks": false, "domain": false, "title": "I", "titleFontSize": 15, "titleX": -42, "titleY": 108, "titleAlign": "left", "titleAngle": -90, "titleBaseline": "alphabetic"}}
         }}
      ]
    },
    {
      "width": 341, "height": 152,
      "resolve": {"axis": {"x": "independent", "y": "independent"}},
      "layer": [
        {"data": {"name": "ijump"},
         "mark": {"type": "line", "color": "#111111", "strokeWidth": 2.5},
         "encoding": {
           "x": {"field": "t", "type": "quantitative", "scale": {"domain": [0, 4], "nice": false},
                 "axis": {"orient": "bottom", "values": [0, 0.5, 1, 1.5, 2, 2.5, 3, 3.5, 4], "labelExpr": "datum.value % 1 === 0 ? '' + datum.value : ''", "labelPadding": 23, "title": "Time [s]", "titlePadding": 0, "tickSize": {"condition": {"test": "datum.value % 1 === 0", "value": -15}, "value": -7}}},
           "y": {"field": "v", "type": "quantitative", "scale": {"domain": [8, 16], "nice": false, "zero": false},
                 "axis": {"orient": "left", "values": [10, 12, 14], "labels": false, "tickSize": -15, "title": null}}
         }},
        {"data": {"name": "ijump_in"},
         "mark": {"type": "line", "color": "#8c8c8c", "strokeWidth": 2, "strokeDash": [6, 3]},
         "encoding": {
           "x": {"field": "t", "type": "quantitative", "axis": {"orient": "top", "values": [0.5, 1, 1.5, 2, 2.5, 3, 3.5], "labels": false, "title": null, "tickSize": {"condition": {"test": "datum.value % 1 === 0", "value": -15}, "value": -7}}},
           "y": {"field": "v", "type": "quantitative", "axis": {"orient": "right", "values": [10, 12, 14], "labels": false, "title": null, "tickSize": -15}}
         }}
      ]
    }
  ]
}
